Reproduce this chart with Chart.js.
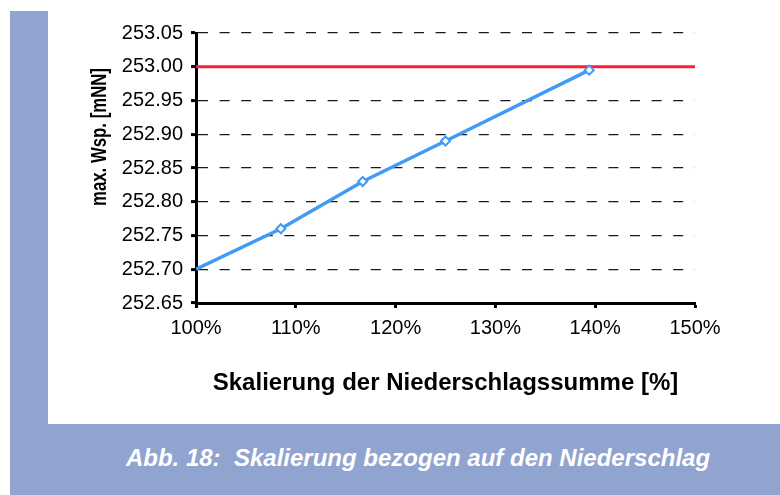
<!DOCTYPE html>
<html lang="de">
<head>
<meta charset="utf-8">
<title>Skalierung bezogen auf den Niederschlag</title>
<script src="https://cdn.jsdelivr.net/npm/chart.js@4.4.1/dist/chart.umd.min.js"></script>
<style>
  html, body { margin: 0; padding: 0; background: #ffffff; }
  body { width: 780px; height: 495px; position: relative; overflow: hidden; font-family: "Liberation Sans", Arial, sans-serif; }
  #frame { position: absolute; left: 10px; top: 11px; right: 0; bottom: 0; background: #91a3cf; }
  #panel { position: absolute; left: 48px; top: 0; width: 732px; height: 424px; background: #ffffff; }
  #chartBox { position: absolute; left: 48px; top: 0; width: 732px; height: 424px; }
  #caption {
    position: absolute; left: 48px; width: 740px; top: 444px;
    text-align: center; color: #ffffff; white-space: pre;
    font: italic bold 24px "Liberation Sans", Arial, sans-serif;
  }
</style>
</head>
<body>
<div id="frame"></div>
<div id="panel"></div>
<div id="chartBox"><canvas id="chart" width="732" height="424"></canvas></div>
<div id="caption">Abb. 18:  Skalierung bezogen auf den Niederschlag</div>

<script>
// Niederschlagsskalierung [%] und maximaler Wasserspiegel [mNN]
const scaling = [100, 108.5, 116.7, 125.0, 139.4];
const maxLevel = [252.70, 252.76, 252.83, 252.89, 252.995];

// Grenzwert (rote Linie) über den gesamten Bereich
const limitX = [100, 150];
const limitLevel = [253.00, 253.00];

// Achsen
const xTicks = [100, 110, 120, 130, 140, 150];
const yTicks = [252.65, 252.70, 252.75, 252.80, 252.85, 252.90, 252.95, 253.00, 253.05];

const xTitle = 'Skalierung der Niederschlagssumme [%]';
const yTitle = 'max. Wsp. [mNN]';

const levelPoints = scaling.map((x, i) => ({ x, y: maxLevel[i] }));
const limitPoints = limitX.map((x, i) => ({ x, y: limitLevel[i] }));

// rotated y-axis title, slightly condensed, set a little above the centre of the plot
const yTitlePlugin = {
  id: 'yTitle',
  afterDraw(chart) {
    const ctx = chart.ctx;
    ctx.save();
    ctx.translate(52, 137);
    ctx.rotate(-Math.PI / 2);
    ctx.scale(0.78, 1);
    ctx.font = 'bold 21.5px "Liberation Sans", Arial, sans-serif';
    ctx.fillStyle = '#000000';
    ctx.textAlign = 'center';
    ctx.textBaseline = 'middle';
    ctx.fillText(yTitle, 0, 0);
    ctx.restore();
  }
};

new Chart(document.getElementById('chart'), {
  type: 'line',
  data: {
    datasets: [
      {
        data: levelPoints,
        borderColor: '#3f9bf5',
        borderWidth: 3.5,
        pointStyle: 'rectRot',
        pointRadius: scaling.map((_, i) => (i === 0 ? 0 : 4.5)),
        pointBorderWidth: 2,
        pointBackgroundColor: '#ffffff',
        pointBorderColor: '#3f9bf5',
        tension: 0,
        order: 1
      },
      {
        data: limitPoints,
        borderColor: '#ff1a35',
        borderWidth: 3,
        pointRadius: 0,
        tension: 0,
        order: 2
      }
    ]
  },
  options: {
    responsive: false,
    animation: false,
    events: [],
    layout: { padding: { left: 0, right: 85, top: 33, bottom: 0 } },
    plugins: { legend: { display: false }, tooltip: { enabled: false } },
    scales: {
      x: {
        type: 'linear',
        min: xTicks[0],
        max: xTicks[xTicks.length - 1],
        afterFit(scale) { scale.height = 121; },
        afterBuildTicks(scale) { scale.ticks = xTicks.map(v => ({ value: v })); },
        ticks: {
          color: '#000000',
          padding: 8,
          font: { family: '"Liberation Sans", Arial, sans-serif', size: 20 },
          callback: v => v + '%'
        },
        grid: {
          drawOnChartArea: false,
          drawTicks: true,
          tickLength: 5,
          tickWidth: 3,
          tickColor: '#000000'
        },
        border: { display: true, color: '#000000', width: 3 },
        title: {
          display: true,
          text: xTitle,
          color: '#000000',
          font: { family: '"Liberation Sans", Arial, sans-serif', size: 24, weight: 'bold' },
          padding: { top: 0, bottom: 26 }
        }
      },
      y: {
        type: 'linear',
        min: yTicks[0],
        max: yTicks[yTicks.length - 1],
        afterFit(scale) { scale.width = 148; },
        afterBuildTicks(scale) { scale.ticks = yTicks.map(v => ({ value: v })); },
        ticks: {
          color: '#000000',
          padding: 8,
          font: { family: '"Liberation Sans", Arial, sans-serif', size: 20 },
          callback: v => v.toFixed(2)
        },
        grid: {
          drawOnChartArea: true,
          drawTicks: true,
          tickLength: 5,
          tickWidth: 3,
          tickColor: '#000000',
          tickBorderDash: [],
          color: '#1a1a1a',
          lineWidth: 1.2
        },
        border: { display: true, color: '#000000', width: 3, dash: [10, 11.6] }
      }
    }
  },
  plugins: [yTitlePlugin]
});
</script>
</body>
</html>
